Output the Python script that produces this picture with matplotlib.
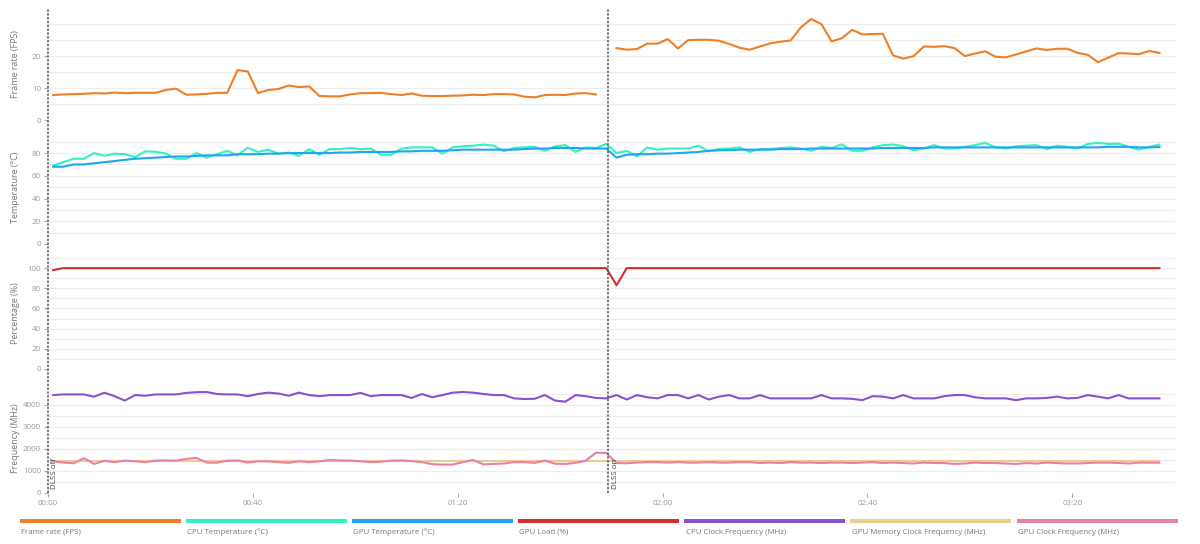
import numpy as np
import matplotlib.pyplot as plt
import matplotlib.transforms as mtransforms
from matplotlib.lines import Line2D
from matplotlib.patches import Rectangle

plt.rcParams['font.family'] = ['Open Sans', 'DejaVu Sans']

# one reading every 2 s, DLSS switched on at ~109 s
seconds = np.arange(1, 218, 2)
dlss_switch = 109.4

fps_off = [7.8, 8.0, 8.1, 8.2, 8.4, 8.3, 8.6, 8.4, 8.5, 8.5,
           8.5, 9.4, 9.8, 7.9, 8.0, 8.2, 8.5, 8.5, 15.6, 15.2,
           8.4, 9.4, 9.7, 10.8, 10.3, 10.5, 7.5, 7.4, 7.4, 8.0,
           8.4, 8.4, 8.5, 8.1, 7.8, 8.3, 7.6, 7.5, 7.5, 7.6,
           7.7, 7.9, 7.8, 8.1, 8.1, 8.0, 7.3, 7.1, 7.8, 7.9,
           7.8, 8.3, 8.4, 8.0]
fps_on = [22.5, 22.0, 22.2, 23.9, 23.9, 25.3, 22.4, 25.0, 25.1, 25.1,
          24.8, 23.8, 22.6, 22.0, 23.0, 24.0, 24.5, 24.9, 29.0, 31.6,
          30.0, 24.6, 25.6, 28.2, 26.8, 26.9, 27.0, 20.2, 19.2, 20.0,
          23.0, 22.9, 23.1, 22.5, 20.0, 20.8, 21.5, 19.8, 19.6, 20.5,
          21.5, 22.4, 21.9, 22.3, 22.3, 21.0, 20.4, 18.1, 19.5, 20.9,
          20.8, 20.6, 21.6, 21.0]
fps = np.array(fps_off + [np.nan] + fps_on)

cpu_temp = [69, 72, 75, 75, 80, 77.6, 79.5, 79, 76.5, 81.5,
            81.2, 79.5, 75, 75, 80, 76, 79, 82, 78, 84.7,
            81, 83, 79.5, 80.5, 77.5, 83.5, 78.5, 83.5, 83.5, 84.5,
            83.5, 84, 78.5, 78.5, 84, 85, 85, 85, 79.5, 85,
            86, 86.5, 87.5, 86.5, 81.5, 84.5, 85, 85.5, 82, 86,
            87, 81, 85, 84.5, 88,
            80, 82, 77, 85, 83, 84, 84, 84, 86.5, 81.5,
            83.5, 84, 85, 81, 83.5, 83.5, 84.5, 85, 84, 82,
            85.5, 84.5, 87.7, 82, 82, 85, 87, 87.5, 86, 82.5,
            84, 87, 84, 84, 85.5, 87, 89, 85, 84, 86,
            86.5, 87, 83.5, 86.5, 85.5, 84, 88, 89, 88, 88.3,
            85.5, 83, 85.5, 87.4]

gpu_temp = [68, 68, 70, 70, 71, 72, 73, 74, 75, 75.5,
            76, 76.5, 77, 77, 77.5, 78, 78, 78, 79, 79,
            79, 79.5, 79.5, 80, 80, 80, 80, 80, 80.5, 80.5,
            81, 81, 81, 81, 81.5, 81.5, 82, 82, 82, 82.5,
            83, 83, 83, 83, 83, 83, 83.5, 84, 84, 84.5,
            84.5, 84.5, 84, 84, 84,
            76, 78.5, 79, 79, 79.5, 79.5, 80, 80.5, 81, 82,
            82.5, 82.5, 83, 83, 83, 83, 83.5, 83.5, 83.5, 84,
            84, 84, 84, 84, 84, 84, 84.5, 84.5, 84.5, 84.5,
            84.5, 85, 85, 85, 85, 85, 85, 85, 85, 85,
            85, 85, 85, 85, 85, 85, 85, 85, 85.5, 85.5,
            85.5, 85, 85, 85.3]

gpu_load = [98, 100, 100, 100, 100, 100, 100, 100, 100, 100,
            100, 100, 100, 100, 100, 100, 100, 100, 100, 100,
            100, 100, 100, 100, 100, 100, 100, 100, 100, 100,
            100, 100, 100, 100, 100, 100, 100, 100, 100, 100,
            100, 100, 100, 100, 100, 100, 100, 100, 100, 100,
            100, 100, 100, 100, 100,
            83, 100, 100, 100, 100, 100, 100, 100, 100, 100,
            100, 100, 100, 100, 100, 100, 100, 100, 100, 100,
            100, 100, 100, 100, 100, 100, 100, 100, 100, 100,
            100, 100, 100, 100, 100, 100, 100, 100, 100, 100,
            100, 100, 100, 100, 100, 100, 100, 100, 100, 100,
            100, 100, 100, 100]

cpu_clock = [4451, 4480, 4480, 4480, 4376, 4556, 4400, 4200, 4450, 4420,
             4480, 4480, 4480, 4550, 4580, 4590, 4500, 4480, 4480, 4400,
             4500, 4560, 4520, 4420, 4560, 4450, 4400, 4450, 4450, 4450,
             4550, 4400, 4450, 4450, 4450, 4320, 4500, 4350, 4450, 4560,
             4590, 4560, 4500, 4450, 4450, 4300, 4270, 4280, 4450, 4200,
             4150, 4450, 4400, 4320, 4300,
             4450, 4250, 4450, 4350, 4300, 4450, 4450, 4300, 4450, 4250,
             4380, 4450, 4300, 4300, 4450, 4300, 4300, 4300, 4300, 4300,
             4450, 4300, 4300, 4280, 4220, 4400, 4380, 4300, 4450, 4300,
             4300, 4300, 4400, 4450, 4450, 4350, 4300, 4300, 4300, 4220,
             4300, 4300, 4320, 4380, 4300, 4320, 4450, 4380, 4300, 4450,
             4300, 4300, 4300, 4300]

gpu_mem_clock = [1475, 1475, 1475, 1475, 1475, 1475, 1475, 1475, 1475, 1475,
                 1475, 1475, 1475, 1475, 1475, 1475, 1475, 1475, 1475, 1475,
                 1475, 1475, 1475, 1475, 1475, 1475, 1475, 1475, 1475, 1475,
                 1475, 1475, 1475, 1475, 1475, 1475, 1475, 1475, 1475, 1475,
                 1475, 1475, 1475, 1475, 1475, 1475, 1475, 1475, 1475, 1475,
                 1475, 1475, 1475, 1475, 1475,
                 1475, 1475, 1475, 1475, 1475, 1475, 1475, 1475, 1475, 1475,
                 1475, 1475, 1475, 1475, 1475, 1475, 1475, 1475, 1475, 1475,
                 1475, 1475, 1475, 1475, 1475, 1475, 1475, 1475, 1475, 1475,
                 1475, 1475, 1475, 1475, 1475, 1475, 1475, 1475, 1475, 1475,
                 1475, 1475, 1475, 1475, 1475, 1475, 1475, 1475, 1475, 1475,
                 1475, 1475, 1475, 1475]

gpu_clock = [1440, 1380, 1350, 1580, 1320, 1460, 1400, 1470, 1440, 1400,
             1470, 1480, 1470, 1550, 1590, 1380, 1380, 1470, 1480, 1380,
             1440, 1440, 1400, 1370, 1440, 1400, 1440, 1500, 1480, 1470,
             1440, 1400, 1420, 1470, 1480, 1450, 1400, 1310, 1290, 1290,
             1400, 1500, 1300, 1320, 1340, 1400, 1400, 1370, 1470, 1330,
             1320, 1370, 1470, 1830, 1820,
             1360, 1350, 1380, 1400, 1400, 1380, 1400, 1380, 1380, 1400,
             1380, 1380, 1400, 1400, 1360, 1380, 1360, 1400, 1380, 1380,
             1360, 1380, 1380, 1360, 1380, 1400, 1360, 1380, 1360, 1340,
             1380, 1360, 1360, 1320, 1340, 1380, 1360, 1360, 1340, 1320,
             1360, 1340, 1380, 1360, 1340, 1340, 1360, 1380, 1380, 1360,
             1340, 1380, 1380, 1380]

names = ['Frame rate (FPS)', 'CPU Temperature (°C)', 'GPU Temperature (°C)',
         'GPU Load (%)', 'CPU Clock Frequency (MHz)',
         'GPU Memory Clock Frequency (MHz)', 'GPU Clock Frequency (MHz)']
colors = ['#ef7f26', '#30f2c2', '#20a6ee', '#d42f2f', '#8b4fcf',
          '#e8cf8a', '#e880aa']
time_ticks = [0, 40, 80, 120, 160, 200]

fig = plt.figure(figsize=(12, 5.44), dpi=100)
x0, x1 = 0.04, 0.979
boxes = [(0.7794, 0.985), (0.5515, 0.7583), (0.3217, 0.5257), (0.0938, 0.296)]
axes = [fig.add_axes([x0, b, x1 - x0, t - b]) for b, t in boxes]

panel_setup = [
    ('Frame rate (FPS)', (0, 35), [0, 10, 20], np.arange(0, 31, 5)),
    ('Temperature (°C)', (0, 99), np.arange(0, 81, 20), np.arange(0, 91, 10)),
    ('Percentage (%)', (0, 110), np.arange(0, 101, 20), np.arange(0, 111, 10)),
    ('Frequency (MHz)', (0, 5000), np.arange(0, 4001, 1000), np.arange(0, 4501, 500)),
]

for ax, (label, ylim, major, minor) in zip(axes, panel_setup):
    ax.set_xlim(0, 220)
    ax.set_ylim(*ylim)
    for s in ax.spines.values():
        s.set_visible(False)
    ax.set_yticks(major)
    ax.set_yticks(minor, minor=True)
    ax.grid(True, which='both', axis='y', color='#ececec', linewidth=0.8)
    ax.set_axisbelow(True)
    ax.tick_params(axis='y', which='major', length=3, width=0.8, color='#aaa',
                   labelsize=5.8, labelcolor='#999', pad=2)
    ax.tick_params(axis='y', which='minor', length=0)
    ax.set_ylabel(label, fontsize=6.4, color='#777')
    ax.yaxis.set_label_coords(-0.0245, 0.5)
    ax.set_xticks(time_ticks)
    ax.tick_params(axis='x', length=0, labelbottom=False)

axes[-1].set_xticklabels([f'{t // 60:02d}:{t % 60:02d}' for t in time_ticks])
axes[-1].tick_params(axis='x', length=3, width=0.8, color='#aaa', labelbottom=True,
                     labelsize=5.8, labelcolor='#999', pad=2)

lw = 1.5
axes[0].plot(seconds, fps, color=colors[0], lw=lw)
axes[1].plot(seconds, cpu_temp, color=colors[1], lw=lw)
axes[1].plot(seconds, gpu_temp, color=colors[2], lw=lw)
axes[2].plot(seconds, gpu_load, color=colors[3], lw=lw)
axes[3].plot(seconds, cpu_clock, color=colors[4], lw=lw)
axes[3].plot(seconds, gpu_mem_clock, color=colors[5], lw=lw)
axes[3].plot(seconds, gpu_clock, color=colors[6], lw=lw)

# DLSS markers spanning all panels
trans = mtransforms.blended_transform_factory(axes[-1].transData, fig.transFigure)
for t, txt in [(0, 'DLSS off'), (dlss_switch, 'DLSS on')]:
    fig.add_artist(Line2D([t, t], [boxes[-1][0], boxes[0][1]], transform=trans,
                          color='#555', lw=1.1, linestyle=(0, (1.5, 1))))
    axes[-1].annotate(txt, xy=(t, 0), xytext=(5, 3), textcoords='offset points',
                      rotation=90, ha='center', va='bottom', fontsize=5.8,
                      color='#444')

# legend bars along the bottom
seg_w, gap, start = 0.1342, 0.0042, 0.0167
for i, (name, c) in enumerate(zip(names, colors)):
    xs = start + i * (seg_w + gap)
    fig.add_artist(Rectangle((xs, 0.0386), seg_w, 0.0075, transform=fig.transFigure,
                             color=c, lw=0))
    fig.text(xs + 0.001, 0.0215, name, fontsize=5.7, color='#777', va='center')

fig.savefig('out.png', dpi=100)
